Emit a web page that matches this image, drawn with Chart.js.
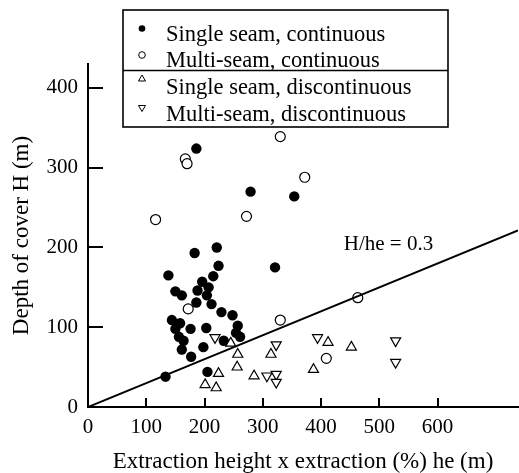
<!DOCTYPE html>
<html>
<head>
<meta charset="utf-8">
<script src="https://cdn.jsdelivr.net/npm/chart.js@4"></script>
<style>
  body { margin: 0; background: #fff; }
  #wrap { width: 519px; height: 473px; }
</style>
</head>
<body>
<div id="wrap"><canvas id="myChart" width="519" height="473"></canvas></div>
<script>
// data
const singleContHe = [186,279,354,221,183,224,138,215,196,207,150,161,188,204,186,212,229,248,257,144,158,150,176,203,156,164,254,261,233,161,198,177,133,205,321];
const singleContH  = [324,270,264,200,193,177,165,164,157,150,145,140,146,140,131,129,119,115,102,109,105,98,98,99,88,83,93,88,83,72,75,63,38,44,175];

const multiContHe = [167,170,116,272,330,372,172,330,463,409];
const multiContH  = [311,305,235,239,339,288,123,109,137,61];

const singleDiscHe = [245,257,256,224,285,314,201,220,412,452,387];
const singleDiscH  = [80,66,50,42,39,66,28,24,81,75,47];

const multiDiscHe = [218,323,307,323,323,394,528,528];
const multiDiscH  = [87,78,39,41,31,87,83,56];

// H/he = 0.3 line
const lineHe = [0, 738];
const lineH  = [0, 221.4];

const xTicks = [0,100,200,300,400,500,600];
const yTicks = [0,100,200,300,400];

const legendLabels = ['Single seam, continuous','Multi-seam, continuous','Single seam, discontinuous','Multi-seam, discontinuous'];

const FONT = "'Liberation Serif', 'Times New Roman', serif";

function pts(xs, ys) {
  return xs.map((x, i) => ({x: x, y: ys[i]}));
}

// inward ticks, legend box and line label
const extras = {
  id: 'extras',
  afterDatasetsDraw(chart) {
    const ctx = chart.ctx;
    const xs = chart.scales.x, ys = chart.scales.y;
    const area = chart.chartArea;
    ctx.save();
    ctx.strokeStyle = '#000';
    ctx.lineWidth = 2;
    xTicks.forEach(v => {
      const px = Math.round(xs.getPixelForValue(v));
      ctx.beginPath(); ctx.moveTo(px, area.bottom); ctx.lineTo(px, area.bottom - 9); ctx.stroke();
    });
    yTicks.forEach(v => {
      const py = Math.round(ys.getPixelForValue(v));
      ctx.beginPath(); ctx.moveTo(area.left, py); ctx.lineTo(area.left + 15, py); ctx.stroke();
    });

    // line label
    ctx.fillStyle = '#000';
    ctx.font = '21px ' + FONT;
    ctx.textAlign = 'left';
    ctx.textBaseline = 'alphabetic';
    ctx.fillText('H/he = 0.3', xs.getPixelForValue(439), ys.getPixelForValue(197));

    // legend
    const bx = 123, by = 10, bw = 325, bh = 117;
    ctx.fillStyle = '#fff';
    ctx.fillRect(bx, by, bw, bh);
    ctx.lineWidth = 1.6;
    ctx.strokeRect(bx, by, bw, bh);
    ctx.beginPath(); ctx.moveTo(bx, 70.5); ctx.lineTo(bx + bw, 70.5); ctx.stroke();

    const baselines = [40.5, 66.5, 94, 120.5];
    const markY = [28.5, 55, 78.5, 108];
    ctx.font = '22.5px ' + FONT;
    ctx.fillStyle = '#000';
    legendLabels.forEach((t, i) => {
      ctx.fillText(t, 166, baselines[i]);
    });
    ctx.lineWidth = 1;
    // filled dot
    ctx.beginPath(); ctx.arc(142, markY[0], 3.3, 0, Math.PI * 2); ctx.fill();
    // open dot
    ctx.beginPath(); ctx.arc(142, markY[1], 3.3, 0, Math.PI * 2); ctx.stroke();
    // up triangle
    ctx.beginPath();
    ctx.moveTo(142, markY[2] - 3.5); ctx.lineTo(145.5, markY[2] + 2.5); ctx.lineTo(138.5, markY[2] + 2.5); ctx.closePath(); ctx.stroke();
    // down triangle
    ctx.beginPath();
    ctx.moveTo(142, markY[3] + 3.5); ctx.lineTo(145.5, markY[3] - 2.5); ctx.lineTo(138.5, markY[3] - 2.5); ctx.closePath(); ctx.stroke();
    ctx.restore();
  }
};

const data = {
  datasets: [
    {
      label: 'H/he = 0.3',
      type: 'line',
      data: pts(lineHe, lineH),
      borderColor: '#000',
      borderWidth: 2,
      pointRadius: 0,
      fill: false,
      order: 0
    },
    {
      label: legendLabels[0],
      data: pts(singleContHe, singleContH),
      pointStyle: 'circle',
      pointRadius: 5.2,
      backgroundColor: '#000',
      borderColor: '#000',
      borderWidth: 0,
      order: 4
    },
    {
      label: legendLabels[1],
      data: pts(multiContHe, multiContH),
      pointStyle: 'circle',
      pointRadius: 5,
      backgroundColor: '#fff',
      borderColor: '#000',
      borderWidth: 1.2,
      order: 3
    },
    {
      label: legendLabels[2],
      data: pts(singleDiscHe, singleDiscH),
      pointStyle: 'triangle',
      pointRadius: 5.8,
      backgroundColor: '#fff',
      borderColor: '#000',
      borderWidth: 1.2,
      order: 2
    },
    {
      label: legendLabels[3],
      data: pts(multiDiscHe, multiDiscH),
      pointStyle: 'triangle',
      rotation: 180,
      pointRotation: 180,
      pointRadius: 5.8,
      backgroundColor: '#fff',
      borderColor: '#000',
      borderWidth: 1.2,
      order: 1
    }
  ]
};

const config = {
  type: 'scatter',
  data,
  options: {
    responsive: false,
    animation: false,
    layout: { autoPadding: false, padding: { top: 64, right: 1, left: 0, bottom: 0 } },
    plugins: {
      legend: { display: false },
      tooltip: { enabled: false }
    },
    scales: {
      x: {
        type: 'linear',
        min: 0,
        max: 738,
        afterFit: s => { s.height = 66; },
        afterBuildTicks: s => { s.ticks = xTicks.map(v => ({value: v})); },
        grid: { display: false, drawTicks: false },
        border: { display: true, color: '#000', width: 2 },
        ticks: { color: '#000', font: { family: FONT, size: 21 }, padding: 8, maxRotation: 0, autoSkip: false },
        title: {
          display: true,
          text: 'Extraction height x extraction (%) he (m)',
          color: '#000',
          font: { family: FONT, size: 23, lineHeight: 1 },
          padding: 0
        }
      },
      y: {
        type: 'linear',
        min: 0,
        max: 430,
        afterFit: s => { s.width = 88; },
        afterBuildTicks: s => { s.ticks = yTicks.map(v => ({value: v})); },
        grid: { display: false, drawTicks: false },
        border: { display: true, color: '#000', width: 2 },
        ticks: { color: '#000', font: { family: FONT, size: 21 }, padding: 10, autoSkip: false },
        title: {
          display: true,
          text: 'Depth of cover H (m)',
          color: '#000',
          font: { family: FONT, size: 23, lineHeight: 1 },
          padding: { top: 10, bottom: 0 }
        }
      }
    }
  },
  plugins: [extras]
};

const myChart = new Chart(document.getElementById('myChart'), config);
</script>
</body>
</html>
